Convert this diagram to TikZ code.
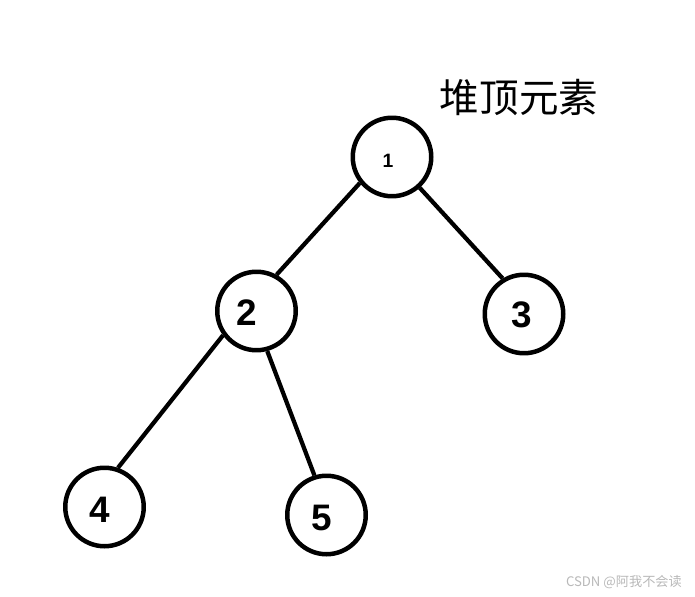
\documentclass[tikz,border=0pt]{standalone}
\usepackage{fontspec}
\setmainfont{Liberation Sans}
\newfontfamily\cjk{Noto Sans CJK SC}
\usetikzlibrary{positioning}

\tikzset{
  vtx/.style={draw,circle,line width=0.09cm,minimum size=1.57cm,inner sep=0pt},
  num/.style={font=\fontsize{21}{24}\selectfont\bfseries},
  edge/.style={line width=0.085cm}
}

\begin{document}
\begin{tikzpicture}[x=0.02cm,y=-0.02cm]
  \useasboundingbox[fill=white] (0,0) rectangle (695,597);
  \node[font=\cjk\fontsize{22.5}{26}\selectfont] (top) at (519,98) {堆顶元素};
  \foreach \n/\x/\y in {1/392/157,2/256.5/311,3/524/314,4/104.5/507,5/326.5/515} {
    \node[vtx] (n\n) at (\x,\y) {};
  }
  \node[font=\fontsize{11}{13}\selectfont\bfseries] (t1) at (388,161) {1};
  \node[num] (t2) at (247,313) {2};
  \node[num] (t3) at (522,315) {3};
  \node[num] (t4) at (100,510) {4};
  \node[num] (t5) at (322,518) {5};
  \draw[edge] (n1.219) -- (n2.61);
  \draw[edge] (n1.312) -- (n3.121);
  \draw[edge] (n2.216) -- (n4.71);
  \draw[edge] (n2.285) -- (n5.107);
  \node[font=\cjk\fontsize{7.5}{9}\selectfont,text=gray!55,anchor=east] (mark) at (688,582) {CSDN @阿我不会读};
\end{tikzpicture}
\end{document}
